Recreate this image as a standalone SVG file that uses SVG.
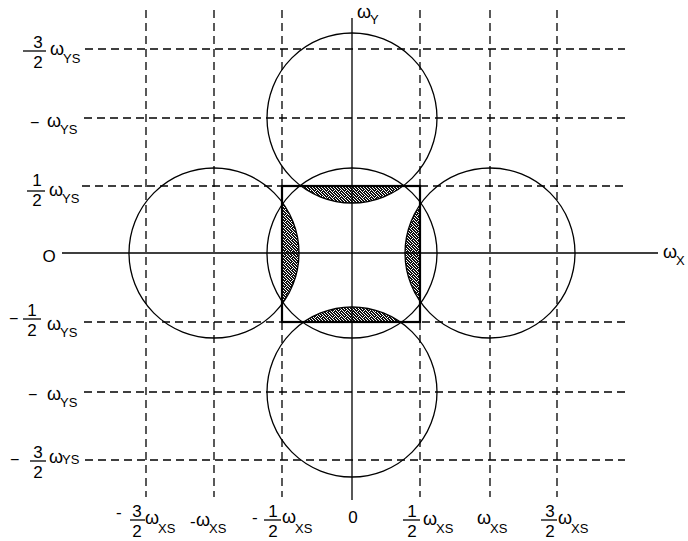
<svg xmlns="http://www.w3.org/2000/svg" width="688" height="541" viewBox="0 0 688 541">
<defs>
<style>
.dash{stroke:#000;stroke-width:1.3;stroke-dasharray:8 5;fill:none}
.axis{stroke:#000;stroke-width:1.3;fill:none}
.circ{fill:none;stroke:#000;stroke-width:1.3}
.sq{fill:none;stroke:#000;stroke-width:2.2}
.bar{stroke:#000;stroke-width:1.3}
text{font-family:"Liberation Sans",Arial,sans-serif;fill:#000}
.w{font-size:18px}
.s{font-size:13px}
.d{font-size:17px;text-anchor:middle}
.m{font-size:16px}
.h{font-size:17px}
.shade{fill:url(#stip);stroke:none}
</style>
<pattern id="stip" width="6" height="6" patternUnits="userSpaceOnUse">
<rect width="6" height="6" fill="#fff"/>
<path fill="#111" d="M0 0h2v1h-2zM3 0h2v1h-2zM1 1h2v1h-2zM4 1h2v1h-2zM0 2h1v1h-1zM2 2h2v1h-2zM5 2h1v1h-1zM0 3h2v1h-2zM3 3h2v1h-2zM1 4h3v1h-3zM5 4h1v1h-1zM0 5h1v1h-1zM2 5h1v1h-1zM4 5h2v1h-2z"/>
</pattern>
</defs>
<rect width="688" height="541" fill="#fff"/>

<g id="grid">
<path class="dash" d="M146 10V497M214 10V497M282 10V497M420 10V497M490 10V497M557 10V497"/>
<path class="dash" d="M85 49H625M84 118H625M82 186H625M84 322H625M84 392H625M85 460H625"/>
</g>

<g id="shading">
<path class="shade" d="M301 186L403 186A85 85 0 0 1 301 186Z"/>
<path class="shade" d="M304 322L400 322A85 85 0 0 0 304 322Z"/>
<path class="shade" d="M282 202L282 304A85 85 0 0 0 282 202Z"/>
<path class="shade" d="M420 205L420 301A85 85 0 0 1 420 205Z"/>
</g>

<g id="axes">
<path class="axis" d="M62 253H658M352 18V500"/>
</g>

<g id="circles">
<circle id="c-center" class="circ" cx="352" cy="253" r="85"/>
<circle id="c-top" class="circ" cx="352" cy="118" r="85"/>
<circle id="c-bottom" class="circ" cx="352" cy="392" r="85"/>
<circle id="c-left" class="circ" cx="214" cy="253" r="85"/>
<circle id="c-right" class="circ" cx="490" cy="253" r="85"/>
</g>

<g id="square">
<rect class="sq" x="282" y="186" width="138" height="136"/>
</g>

<g id="axis-labels">
<text class="w" x="357" y="18">ω</text><text class="s" x="370" y="24">Y</text>
<text class="w" x="663" y="258">ω</text><text class="s" x="676" y="265">X</text>
</g>

<g id="y-labels">
<text class="d" x="38" y="48">3</text><line class="bar" x1="23" y1="51" x2="46" y2="51"/><text class="d" x="38" y="68">2</text>
<text class="w" x="50" y="55">ω</text><text class="s" x="63" y="63">YS</text>

<text class="m" x="30" y="128">−</text><text class="w" x="47" y="127">ω</text><text class="s" x="60" y="134">YS</text>

<text class="d" x="37" y="186">1</text><line class="bar" x1="27" y1="191" x2="45" y2="191"/><text class="d" x="37" y="206">2</text>
<text class="w" x="49" y="196">ω</text><text class="s" x="62" y="203">YS</text>

<text class="d" x="49" y="262">O</text>

<text class="m" x="9" y="324">−</text>
<text class="d" x="32" y="316">1</text><line class="bar" x1="23" y1="319" x2="41" y2="319"/><text class="d" x="32" y="336">2</text>
<text class="w" x="47" y="330">ω</text><text class="s" x="60" y="337">YS</text>

<text class="m" x="28" y="400">−</text><text class="w" x="47" y="400">ω</text><text class="s" x="60" y="407">YS</text>

<text class="m" x="10" y="465">−</text>
<text class="d" x="38" y="458">3</text><line class="bar" x1="30" y1="461" x2="46" y2="461"/><text class="d" x="38" y="478">2</text>
<text class="w" x="49" y="463">ω</text><text class="s" x="62" y="464">YS</text>
</g>

<g id="x-labels">
<text class="h" x="116" y="518">-</text>
<text class="d" x="137" y="517">3</text><line class="bar" x1="130" y1="520" x2="145" y2="520"/><text class="d" x="137" y="537">2</text>
<text class="w" x="145" y="524">ω</text><text class="s" x="158" y="533">XS</text>

<text class="h" x="190" y="527">-</text><text class="w" x="196" y="526">ω</text><text class="s" x="209" y="533">XS</text>

<text class="h" x="252" y="523">-</text>
<text class="d" x="273" y="517">1</text><line class="bar" x1="264" y1="520" x2="281" y2="520"/><text class="d" x="273" y="537">2</text>
<text class="w" x="282" y="523">ω</text><text class="s" x="295" y="533">XS</text>

<text class="d" x="353" y="523">0</text>

<text class="d" x="412" y="517">1</text><line class="bar" x1="403" y1="520" x2="420" y2="520"/><text class="d" x="412" y="537">2</text>
<text class="w" x="423" y="525">ω</text><text class="s" x="436" y="533">XS</text>

<text class="w" x="477" y="524">ω</text><text class="s" x="490" y="533">XS</text>

<text class="d" x="550" y="517">3</text><line class="bar" x1="541" y1="520" x2="557" y2="520"/><text class="d" x="550" y="537">2</text>
<text class="w" x="558" y="524">ω</text><text class="s" x="571" y="533">XS</text>
</g>
</svg>
